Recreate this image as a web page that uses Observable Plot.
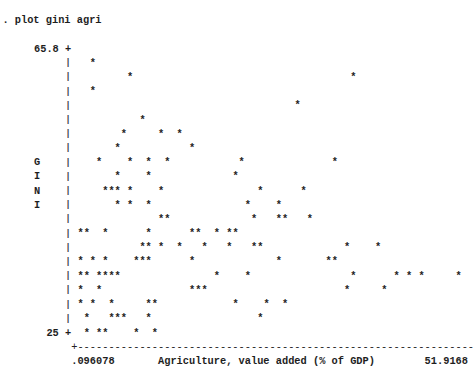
<!DOCTYPE html>
<html>
<head>
<meta charset="utf-8">
<script src="https://cdn.jsdelivr.net/npm/d3@7"></script>
<script src="https://cdn.jsdelivr.net/npm/@observablehq/plot@0.6"></script>
<style>
  html, body { margin: 0; padding: 0; background: #ffffff; }
  #chart svg { display: block; }
</style>
</head>
<body>
<div id="chart"></div>
<script>
// ---- texts ----
const command = ". plot gini agri";
const yTitle = "GINI";
const xTitle = "Agriculture, value added (% of GDP)";
const yTickLabels = ["65.8", "25"];
const xTickLabels = [".096078", "51.9168"];
const yRange = [25, 65.8];
const xRange = [0.096078, 51.9168];

// ---- data (one star per point) ----
const agri = [
  1.80,
  6.89, 37.48,
  1.80,
  29.83,
  8.59,
  6.04, 11.14, 13.69,
  5.19, 15.39,
  2.64, 6.89, 9.44, 11.99, 22.18, 34.93,
  5.19, 9.44, 21.33,
  3.49, 4.34, 5.19, 6.89, 11.14, 24.73, 30.68,
  5.19, 6.89, 9.44, 23.03, 27.28,
  11.14, 11.99, 23.88, 27.28, 28.13, 31.53,
  0.096, 0.95, 3.49, 9.44, 15.39, 16.24, 18.79, 20.48, 21.33,
  8.59, 9.44, 11.14, 13.69, 17.09, 20.48, 23.88, 24.73, 36.63, 40.87,
  0.096, 1.80, 3.49, 7.74, 8.59, 9.44, 15.39, 27.28, 34.08, 34.93,
  0.096, 0.95, 2.64, 3.49, 4.34, 5.19, 18.79, 23.03, 37.48, 43.42, 45.12, 46.82, 51.9168,
  0.096, 2.64, 15.39, 16.24, 17.09, 36.63, 41.72,
  0.096, 1.80, 4.34, 9.44, 10.29, 21.33, 25.58, 28.13,
  0.95, 4.34, 5.19, 6.04, 9.44, 24.73,
  0.95, 2.64, 3.49, 7.74, 10.29
];
const gini = [
  65.8,
  63.65, 63.65,
  61.51,
  59.36,
  57.21,
  55.06, 55.06, 55.06,
  52.92, 52.92,
  50.77, 50.77, 50.77, 50.77, 50.77, 50.77,
  48.62, 48.62, 48.62,
  46.47, 46.47, 46.47, 46.47, 46.47, 46.47, 46.47,
  44.33, 44.33, 44.33, 44.33, 44.33,
  42.18, 42.18, 42.18, 42.18, 42.18, 42.18,
  40.03, 40.03, 40.03, 40.03, 40.03, 40.03, 40.03, 40.03, 40.03,
  37.88, 37.88, 37.88, 37.88, 37.88, 37.88, 37.88, 37.88, 37.88, 37.88,
  35.74, 35.74, 35.74, 35.74, 35.74, 35.74, 35.74, 35.74, 35.74, 35.74,
  33.59, 33.59, 33.59, 33.59, 33.59, 33.59, 33.59, 33.59, 33.59, 33.59, 33.59, 33.59, 33.59,
  31.44, 31.44, 31.44, 31.44, 31.44, 31.44, 31.44,
  29.29, 29.29, 29.29, 29.29, 29.29, 29.29, 29.29, 29.29,
  27.15, 27.15, 27.15, 27.15, 27.15, 27.15,
  25, 25, 25, 25, 25
];

const points = agri.map((a, i) => ({agri: a, gini: gini[i]}));

// ---- character-grid helpers (text plot: columns / lines in data space) ----
const colX = c => xRange[0] + (c - 12) * (xRange[1] - xRange[0]) / 61;
const rowY = r => yRange[1] - (r - 1) * (yRange[1] - yRange[0]) / 19;

const font = {
  fontFamily: "'Liberation Mono', 'Courier New', monospace",
  fontSize: 10.333,
  fontWeight: "bold",
  fill: "#1e1e1e",
  lineAnchor: "middle"
};

const leftAxisRows = d3.range(0, 21);
const pipeRows = leftAxisRows.filter(r => r !== 0 && r !== 20);
const plusRows = [0, 20];
const yLetters = Array.from(yTitle).map((ch, i) => ({ch, row: 8 + i}));
const yTicks = yTickLabels.map((t, i) => ({t, row: i === 0 ? 0 : 20}));

const chart = Plot.plot({
  width: 473,
  height: 368,
  margin: 0,
  x: {domain: xRange, range: [80, 458.2], axis: null},
  y: {domain: yRange, range: [331.7, 61.9], axis: null},
  marks: [
    // command line
    Plot.text([command], {x: () => colX(-0.6), y: () => rowY(-2), text: d => d, textAnchor: "start", ...font}),
    // y title, one letter per line
    Plot.text(yLetters, {x: () => colX(5), y: d => rowY(d.row), text: d => d.ch, textAnchor: "middle", ...font}),
    // y tick labels
    Plot.text(yTicks, {x: () => colX(8.5), y: d => rowY(d.row), text: d => d.t, textAnchor: "end", ...font}),
    // left axis
    Plot.text(plusRows, {x: () => colX(10), y: r => rowY(r), text: () => "+", textAnchor: "middle", ...font}),
    Plot.text(pipeRows, {x: () => colX(10), y: r => rowY(r), text: () => "|", textAnchor: "middle", ...font,
      fontSize: 8.5, fontWeight: "bold", fill: "#3a3848"}),
    // bottom axis
    Plot.text(["+" + "-".repeat(64)], {x: () => colX(10.5), y: () => rowY(21), text: d => d, textAnchor: "start", ...font,
      fontWeight: "normal", fill: "#222"}),
    // x tick labels and title
    Plot.text([xTickLabels[0]], {x: () => colX(10.5), y: () => rowY(22), text: d => d, textAnchor: "start", ...font}),
    Plot.text([xTitle], {x: () => colX(24.5), y: () => rowY(22), text: d => d, textAnchor: "start", ...font}),
    Plot.text([xTickLabels[1]], {x: () => colX(74.5), y: () => rowY(22), text: d => d, textAnchor: "end", ...font}),
    // data stars
    Plot.text(points, {x: "agri", y: "gini", text: () => "*", textAnchor: "middle", ...font})
  ]
});
document.getElementById("chart").appendChild(chart);
</script>
</body>
</html>
